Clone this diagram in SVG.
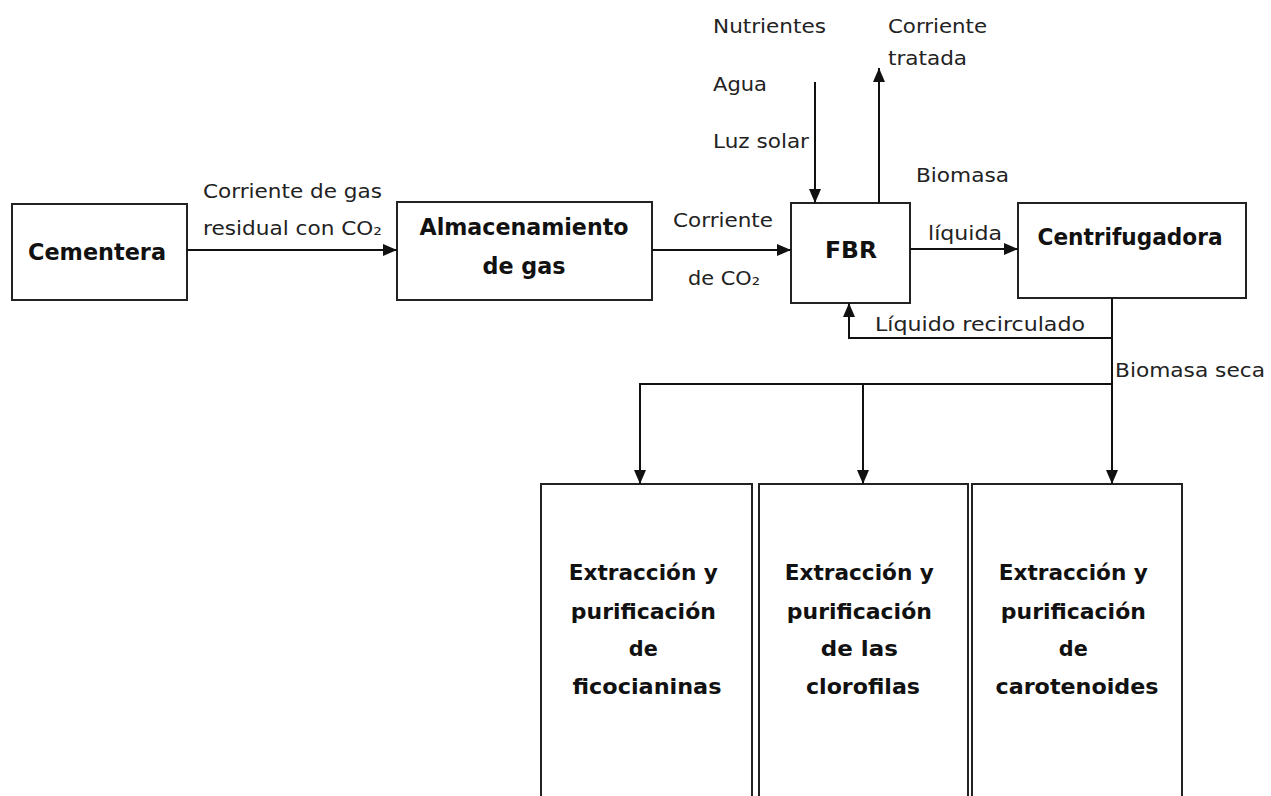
<svg xmlns="http://www.w3.org/2000/svg" width="1271" height="796" viewBox="0 0 1271 796">
<style>
.box{fill:#fff;stroke:#222;stroke-width:2}
.b{font-family:"DejaVu Sans",sans-serif;font-weight:bold;fill:#111}
.r{font-family:"DejaVu Sans",sans-serif;font-size:19px;fill:#222}
.c{fill:none;stroke:#111;stroke-width:2}
</style>
<defs>
<marker id="ah" markerUnits="userSpaceOnUse" markerWidth="16" markerHeight="16" viewBox="0 0 16 16" refX="15" refY="8" orient="auto">
<path d="M1,2 L15,8 L1,14 Z" fill="#111"/>
</marker>
</defs>
<rect width="1271" height="796" fill="#fff"/>
<g id="cementera">
<rect class="box" x="12" y="204" width="175" height="96"/>
<text class="b" x="97" y="260" font-size="23" text-anchor="middle" textLength="138" lengthAdjust="spacingAndGlyphs">Cementera</text>
</g>
<g id="almacenamiento">
<rect class="box" x="397" y="202" width="255" height="98"/>
<text class="b" x="524" y="235" font-size="23" text-anchor="middle" textLength="209" lengthAdjust="spacingAndGlyphs">Almacenamiento</text>
<text class="b" x="524" y="274" font-size="23" text-anchor="middle" textLength="83" lengthAdjust="spacingAndGlyphs">de gas</text>
</g>
<g id="fbr">
<rect class="box" x="791" y="203" width="119" height="100"/>
<text class="b" x="851" y="258" font-size="23" text-anchor="middle" textLength="52" lengthAdjust="spacingAndGlyphs">FBR</text>
</g>
<g id="centrifugadora">
<rect class="box" x="1018" y="203" width="228" height="95"/>
<text class="b" x="1130" y="245" font-size="23" text-anchor="middle" textLength="185" lengthAdjust="spacingAndGlyphs">Centrifugadora</text>
</g>
<g id="ficocianinas">
<rect class="box" x="541" y="484" width="211" height="330"/>
<text class="b" font-size="21" text-anchor="middle">
<tspan x="647" y="580" textLength="149" lengthAdjust="spacingAndGlyphs">Extracción y</tspan>
<tspan x="647" y="619" textLength="145" lengthAdjust="spacingAndGlyphs">purificación</tspan>
<tspan x="647" y="656" textLength="29" lengthAdjust="spacingAndGlyphs">de</tspan>
<tspan x="647" y="694" textLength="149" lengthAdjust="spacingAndGlyphs">ficocianinas</tspan>
</text>
</g>
<g id="clorofilas">
<rect class="box" x="759" y="484" width="209" height="330"/>
<text class="b" font-size="21" text-anchor="middle">
<tspan x="863" y="580" textLength="149" lengthAdjust="spacingAndGlyphs">Extracción y</tspan>
<tspan x="863" y="619" textLength="145" lengthAdjust="spacingAndGlyphs">purificación</tspan>
<tspan x="863" y="656" textLength="77" lengthAdjust="spacingAndGlyphs">de las</tspan>
<tspan x="863" y="694" textLength="114" lengthAdjust="spacingAndGlyphs">clorofilas</tspan>
</text>
</g>
<g id="carotenoides">
<rect class="box" x="972" y="484" width="210" height="330"/>
<text class="b" font-size="21" text-anchor="middle">
<tspan x="1077" y="580" textLength="149" lengthAdjust="spacingAndGlyphs">Extracción y</tspan>
<tspan x="1077" y="619" textLength="145" lengthAdjust="spacingAndGlyphs">purificación</tspan>
<tspan x="1077" y="656" textLength="29" lengthAdjust="spacingAndGlyphs">de</tspan>
<tspan x="1077" y="694" textLength="163" lengthAdjust="spacingAndGlyphs">carotenoides</tspan>
</text>
</g>
<g id="connectors">
<path class="c" d="M187,250 H397" marker-end="url(#ah)"/>
<path class="c" d="M652,250 H791" marker-end="url(#ah)"/>
<path class="c" d="M815,82 V203" marker-end="url(#ah)"/>
<path class="c" d="M879,203 V68" marker-end="url(#ah)"/>
<path class="c" d="M910,249 H1018" marker-end="url(#ah)"/>
<path class="c" d="M1112,338 H849 V303" stroke-width="2.5" marker-end="url(#ah)"/>
<path class="c" d="M1112,298 V484" marker-end="url(#ah)"/>
<path class="c" d="M1112,384 H640 V484" marker-end="url(#ah)"/>
<path class="c" d="M863,384 V484" marker-end="url(#ah)"/>
</g>
<g id="labels">
<text class="r" x="713" y="33" textLength="113" lengthAdjust="spacingAndGlyphs">Nutrientes</text>
<text class="r" x="713" y="91" textLength="54" lengthAdjust="spacingAndGlyphs">Agua</text>
<text class="r" x="713" y="148" textLength="96" lengthAdjust="spacingAndGlyphs">Luz solar</text>
<text class="r" x="888" y="33" textLength="99" lengthAdjust="spacingAndGlyphs">Corriente</text>
<text class="r" x="888" y="65" textLength="79" lengthAdjust="spacingAndGlyphs">tratada</text>
<text class="r" x="916" y="182" textLength="93" lengthAdjust="spacingAndGlyphs">Biomasa</text>
<text class="r" x="928" y="240" textLength="74" lengthAdjust="spacingAndGlyphs">líquida</text>
<text class="r" x="875" y="331" textLength="210" lengthAdjust="spacingAndGlyphs">Líquido recirculado</text>
<text class="r" x="1115" y="377" textLength="150" lengthAdjust="spacingAndGlyphs">Biomasa seca</text>
<text class="r" x="203" y="198" textLength="179" lengthAdjust="spacingAndGlyphs">Corriente de gas</text>
<text class="r" x="203" y="235" textLength="179" lengthAdjust="spacingAndGlyphs">residual con CO₂</text>
<text class="r" x="673" y="227" textLength="100" lengthAdjust="spacingAndGlyphs">Corriente</text>
<text class="r" x="688" y="285" textLength="72" lengthAdjust="spacingAndGlyphs">de CO₂</text>
</g>
</svg>
